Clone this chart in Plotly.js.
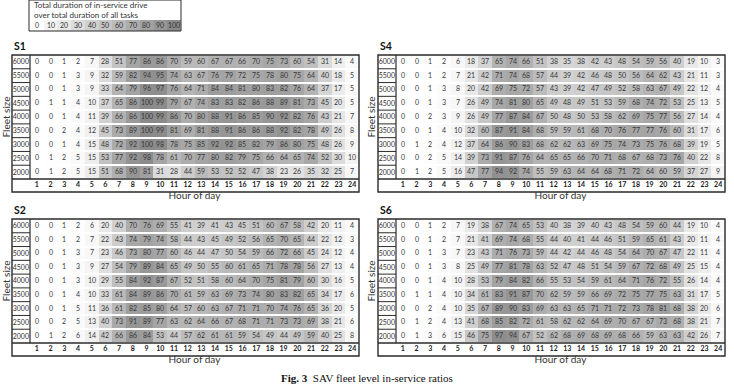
<!DOCTYPE html>
<html>
<head>
<meta charset="utf-8">
<script src="https://cdn.plot.ly/plotly-3.0.1.min.js"></script>
<style>html,body{margin:0;padding:0;background:#fff;}#chart{width:734px;height:385px;}</style>
</head>
<body>
<div id="chart"></div>
<script>
const hours = [1,2,3,4,5,6,7,8,9,10,11,12,13,14,15,16,17,18,19,20,21,22,23,24];
const fleetSizes = ['6000','5500','5000','4500','4000','3500','3000','2500','2000'];
const legendValues = [0,10,20,30,40,50,60,70,80,90,100];

const S1 = [
 [0,0,1,2,7,28,51,77,86,86,70,59,60,67,67,66,70,75,73,60,54,31,14,4],
 [0,0,1,3,9,32,59,82,94,95,74,63,67,76,79,72,75,78,80,75,64,40,18,5],
 [0,0,1,3,9,33,64,79,96,97,76,64,71,84,84,81,80,83,82,76,64,37,17,5],
 [0,1,1,4,10,37,65,86,100,99,79,67,74,83,83,82,86,88,89,81,73,45,20,5],
 [0,0,1,4,11,39,66,86,100,99,86,70,80,88,91,86,85,90,92,82,76,43,21,7],
 [0,0,2,4,12,45,73,89,100,99,81,69,81,88,91,86,86,88,92,82,78,49,26,8],
 [0,0,1,4,15,48,72,92,100,98,78,75,85,92,92,85,82,79,86,80,75,48,26,9],
 [0,1,2,5,15,53,77,92,98,78,61,70,77,80,82,79,75,66,64,65,74,52,30,10],
 [0,1,2,5,15,51,68,90,81,31,28,44,59,53,52,52,47,38,23,26,35,32,25,7]
];
const S4 = [
 [0,0,1,2,6,18,37,65,74,66,51,38,35,38,42,43,48,54,59,56,40,19,10,3],
 [0,0,1,2,7,21,42,71,74,68,57,44,39,42,46,48,50,56,64,62,43,21,11,3],
 [0,0,1,3,8,20,42,69,75,72,57,43,39,42,47,49,52,58,63,67,49,22,12,4],
 [0,0,1,3,7,26,49,74,81,80,65,49,48,49,51,53,59,68,74,72,53,25,13,5],
 [0,0,2,3,9,26,49,77,87,84,67,50,48,50,53,58,62,69,75,77,56,27,14,4],
 [0,0,1,4,10,32,60,87,91,84,68,59,59,61,68,70,76,77,77,76,60,31,17,6],
 [0,1,2,4,12,37,64,86,90,83,68,62,62,63,69,75,74,73,75,76,68,39,19,5],
 [0,0,2,5,14,39,73,91,87,76,64,65,65,66,70,71,68,67,68,73,76,40,22,8],
 [0,1,2,5,16,47,77,94,92,74,55,59,63,64,64,68,71,72,64,60,59,37,27,9]
];
const S2 = [
 [0,0,1,2,6,20,40,70,76,69,55,41,39,41,43,45,51,60,67,58,42,20,11,4],
 [0,0,1,2,7,22,43,74,79,74,58,44,43,45,49,52,56,65,70,65,44,22,12,3],
 [0,0,1,3,7,23,46,73,80,77,60,46,44,47,50,54,59,66,72,66,45,24,12,4],
 [0,0,1,3,9,27,54,79,89,84,65,49,50,55,60,61,65,71,78,78,56,27,13,4],
 [0,0,1,3,10,29,55,84,92,87,67,52,51,58,60,64,70,75,81,79,60,30,16,5],
 [0,0,1,4,10,33,61,84,89,86,70,61,59,63,69,73,74,80,83,82,65,34,17,6],
 [0,0,1,5,11,36,61,82,85,80,64,57,60,63,67,71,71,70,74,76,65,36,20,5],
 [0,0,2,5,13,40,73,91,89,77,63,62,64,66,67,68,71,71,73,73,69,38,21,6],
 [0,1,2,6,14,42,66,86,84,53,44,57,62,61,61,59,54,49,44,49,59,40,25,8]
];
const S6 = [
 [0,0,1,2,7,19,38,67,74,65,53,40,38,39,40,43,48,54,59,60,44,19,10,4],
 [0,0,1,2,7,21,41,69,74,68,55,44,40,41,44,46,51,59,65,61,43,20,11,4],
 [0,0,1,3,7,23,43,71,76,73,59,44,42,44,46,48,54,64,70,67,47,22,11,4],
 [0,0,1,3,8,25,49,77,81,78,63,52,47,48,51,54,59,67,72,68,49,25,15,4],
 [0,0,1,4,10,28,53,79,84,82,66,55,53,54,59,61,64,71,76,72,55,26,14,4],
 [0,1,1,4,10,34,61,83,91,87,70,62,59,59,66,69,72,75,77,75,63,31,17,5],
 [0,0,2,4,10,35,67,89,90,83,69,63,63,65,71,71,72,73,78,81,68,38,20,6],
 [0,1,2,4,13,41,68,85,82,72,61,58,62,62,64,69,70,67,67,73,68,38,21,7],
 [0,1,3,6,15,46,75,97,94,67,52,62,68,69,68,69,68,66,59,63,63,42,26,7]
];

const W = 734, H = 385;
const px = x => x / W;
const py = y => 1 - y / H;
const FONT = 'Lato, "Open Sans", sans-serif';
const LINE = '#2a2a2a';
const scale = [[0,'#ffffff'],[1,'#8a8a8a']];

const panels = [
  {name:'S1', z:S1, L:12,  D:30,  R:359, T:55,  B:179, NB:192},
  {name:'S4', z:S4, L:378, D:396, R:725, T:55,  B:179, NB:192},
  {name:'S2', z:S2, L:12,  D:30,  R:359, T:219, B:343, NB:356},
  {name:'S6', z:S6, L:378, D:396, R:725, T:219, B:343, NB:356}
];

const data = [];
const layout = {
  width: W, height: H,
  margin: {l:0, r:0, t:0, b:0},
  paper_bgcolor: '#fff', plot_bgcolor: '#fff',
  showlegend: false,
  font: {family: FONT, color: '#333'},
  shapes: [], annotations: []
};

panels.forEach((p, i) => {
  const k = i + 1;
  const xa = 'x' + k, ya = 'y' + k;
  const xKey = k === 1 ? 'xaxis' : 'xaxis' + k;
  const yKey = k === 1 ? 'yaxis' : 'yaxis' + k;
  data.push({
    type: 'heatmap', x: hours, y: fleetSizes, z: p.z,
    xaxis: xa, yaxis: ya,
    colorscale: scale, zmin: 0, zmax: 100, showscale: false,
    xgap: 0, ygap: 2,
    texttemplate: '%{z}',
    textfont: {family: FONT, size: 7, color: '#383838'},
    hoverinfo: 'skip'
  });
  layout[xKey] = {
    domain: [px(p.D), px(p.R)], anchor: ya,
    range: [0.5, 24.5], tickvals: hours, ticktext: hours.map(String),
    tickfont: {family: FONT, size: 7, color: '#1a1a1a', weight: 'bold'},
    ticks: '', showgrid: false, zeroline: false, showline: false,
    title: {text: 'Hour of day', font: {family: FONT, size: 10, color: '#333'}, standoff: 4},
    fixedrange: true
  };
  layout[yKey] = {
    domain: [py(p.B), py(p.T)], anchor: xa,
    type: 'category', range: [8.5, -0.5],
    tickfont: {family: FONT, size: 7, color: '#333'},
    ticks: '', showgrid: false, zeroline: false, showline: false,
    title: {text: 'Fleet size', font: {family: FONT, size: 10, color: '#333'}, standoff: 1},
    fixedrange: true
  };
  const s = layout.shapes;
  s.push({type:'rect', xref:'paper', yref:'paper', x0:px(p.L), x1:px(p.R), y0:py(p.NB), y1:py(p.T), line:{color:LINE, width:1.4}});
  s.push({type:'line', xref:'paper', yref:'paper', x0:px(p.L), x1:px(p.R), y0:py(p.B), y1:py(p.B), line:{color:LINE, width:1.4}});
  s.push({type:'line', xref:'paper', yref:'paper', x0:px(p.D), x1:px(p.D), y0:py(p.B), y1:py(p.T), line:{color:LINE, width:1.2}});
  for (let r = 0; r < fleetSizes.length - 1; r++) {
    s.push({type:'line', xref:'paper', yref:ya, x0:px(p.L), x1:px(p.D), y0:r + 0.5, y1:r + 0.5, line:{color:LINE, width:1}});
  }
  layout.annotations.push({
    xref:'paper', yref:'paper', x:px(p.L), y:py(p.T - 9), xanchor:'left', yanchor:'middle',
    text:'<b>' + p.name + '</b>', showarrow:false, font:{family:FONT, size:10.5, color:'#111'}
  });
});

data.push({
  type: 'heatmap', x: legendValues, y: ['scale'], z: [legendValues],
  xaxis: 'x5', yaxis: 'y5',
  colorscale: scale, zmin: 0, zmax: 100, showscale: false, xgap: 0, ygap: 0,
  texttemplate: '%{z}', textfont: {family: FONT, size: 7, color: '#333'},
  hoverinfo: 'skip'
});
layout.xaxis5 = {domain:[px(30), px(180.7)], anchor:'y5', range:[-5,105], visible:false, fixedrange:true};
layout.yaxis5 = {domain:[py(31), py(20)], anchor:'x5', visible:false, fixedrange:true};
layout.shapes.push({type:'rect', xref:'paper', yref:'paper', x0:px(29), x1:px(181), y0:py(31), y1:py(0), line:{color:LINE, width:1}});
layout.annotations.push({xref:'paper', yref:'paper', x:px(32), y:py(5), xanchor:'left', yanchor:'middle',
  text:'Total duration of in-service drive', showarrow:false, font:{family:FONT, size:8, color:'#333'}});
layout.annotations.push({xref:'paper', yref:'paper', x:px(32), y:py(15), xanchor:'left', yanchor:'middle',
  text:'over total duration of all tasks', showarrow:false, font:{family:FONT, size:8, color:'#333'}});

layout.annotations.push({xref:'paper', yref:'paper', x:px(367), y:py(378), xanchor:'center', yanchor:'middle',
  text:'<b>Fig. 3</b>  SAV fleet level in-service ratios', showarrow:false,
  font:{family:'"Liberation Serif", "DejaVu Serif", serif', size:11, color:'#111'}});

Plotly.newPlot('chart', data, layout, {staticPlot:true, displayModeBar:false});
</script>
</body>
</html>
